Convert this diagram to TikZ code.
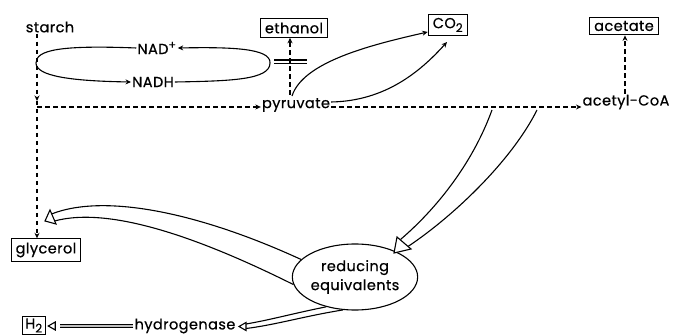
\documentclass[tikz,border=0pt]{standalone}
\usepackage{fontspec}
\setmainfont{Poppins}[LetterSpace=3,FakeBold=0.6]
\usetikzlibrary{arrows.meta,shapes.geometric}
\tikzset{
  lbl/.style={inner sep=1pt, font=\fontsize{14.5}{16}\selectfont},
  boxed/.style={draw, line width=1.1pt, inner xsep=4.5pt, inner ysep=3.8pt, font=\fontsize{14.5}{16}\selectfont},
  dsh/.style={dash pattern=on 4.5pt off 3.5pt, line width=1.1pt},
  arr/.style={-{Stealth[length=5.5pt,width=5pt]}},
  ln/.style={line width=1.1pt},
  head/.style={draw, line width=1.1pt, fill=white, line join=miter}
}
\begin{document}
\begin{tikzpicture}[x=1pt,y=-1pt]
\useasboundingbox (0,0) rectangle (675,336);
% nodes
\node[lbl] (starch) at (50,27) {starch};
\node[boxed] (ethanol) at (294,28) {ethanol};
\node[boxed] (co2) at (448,25) {CO\textsubscript{\fontsize{12}{12}\selectfont 2}};
\node[boxed] (acetate) at (624,26) {acetate};
\node[lbl] (nadp) at (157,48) {NAD\textsuperscript{\fontsize{11}{11}\selectfont +}};
\node[lbl] (nadh) at (153,82) {NADH};
\node[lbl] (pyr) at (296,105) {pyruvate};
\node[lbl] (acoa) at (626,102) {acetyl-CoA};
\node[boxed] (glyc) at (46,250) {glycerol};
\node[draw, ellipse, line width=1.1pt, minimum width=110pt, minimum height=66pt, inner sep=0pt, align=center, font=\fontsize{14.5}{19}\selectfont] (re) at (355,277) {reducing\\equivalents};
\node[lbl] (hyd) at (185,326) {hydrogenase};
\node[boxed, inner ysep=2pt, inner xsep=3pt, anchor=north] (h2) at (34,316) {H\textsubscript{\fontsize{12}{12}\selectfont 2}};
% coordinates
\coordinate (b1) at (37,101);
\coordinate (b2) at (37,107);
% starch branch
\draw[dsh,arr] (starch.south -| b1) -- (b1);
\draw[dsh,arr] (b1) -- (glyc.north -| b1);
\draw[dsh,arr] (b2) -- (b2 -| pyr.west);
\draw[dsh,arr] (pyr.east |- 0,107) -- (acoa.west |- 0,107);
\draw[dsh,arr] (290,95) -- (ethanol.south -| 290,0);
\draw[dsh,arr] (acoa.north -| 625,0) -- (acetate.south -| 625,0);
% cross bar
\draw[ln] (274,60) -- (307,60);
\draw[ln] (274,63.5) -- (307,63.5);
% NAD loop
\draw[ln,arr] (270,63) .. controls (271,48) and (230,47) .. (nadp.east);
\draw[ln,arr] (nadp.west) .. controls (60,45) and (36,50) .. (36,63) .. controls (36,76) and (70,81) .. (nadh.west);
\draw[ln] (nadh.east) .. controls (230,81) and (270,80) .. (270,63);
% pyruvate to CO2
\draw[ln,arr] (292,96) .. controls (303,62) and (370,45) .. (co2.west |- 0,32);
\draw[ln,arr] (pyr.east |- 0,102) .. controls (385,101) and (420,72) .. (447,42);
% wide arrow to reducing equivalents
\draw[ln] (492,110) .. controls (472,165) and (435,210) .. (400.5,239.5);
\draw[ln] (537,110) .. controls (512,160) and (455,215) .. (408,246.5);
\draw[head] (394,253) -- (397,237) -- (411,249) -- cycle;
% wide arrow to glycerol
\draw[ln] (re.162) .. controls (200,213) and (105,193) .. (51.5,214);
\draw[ln] (re.187) .. controls (200,238) and (110,206) .. (54.5,221);
\draw[head] (45,221) -- (50,210) -- (56,224) -- cycle;
% wide arrow to hydrogenase
\draw[ln] (re.226) .. controls (295,313) and (270,320) .. (246,324);
\draw[ln] (re.250) .. controls (305,316) and (275,325) .. (246,328.5);
\draw[head] (239,326.5) -- (246,322.5) -- (246,330.5) -- cycle;
% hydrogenase to H2
\draw[line width=3.6pt] (hyd.west) -- (60,326);
\draw[line width=1.2pt, gray!50] (hyd.west) -- (60,326);
\draw[head] (h2.east |- hyd.west) ++(2,0) coordinate (ht) -- ++(7,-4) -- ++(0,8) -- cycle;
\end{tikzpicture}
\end{document}
